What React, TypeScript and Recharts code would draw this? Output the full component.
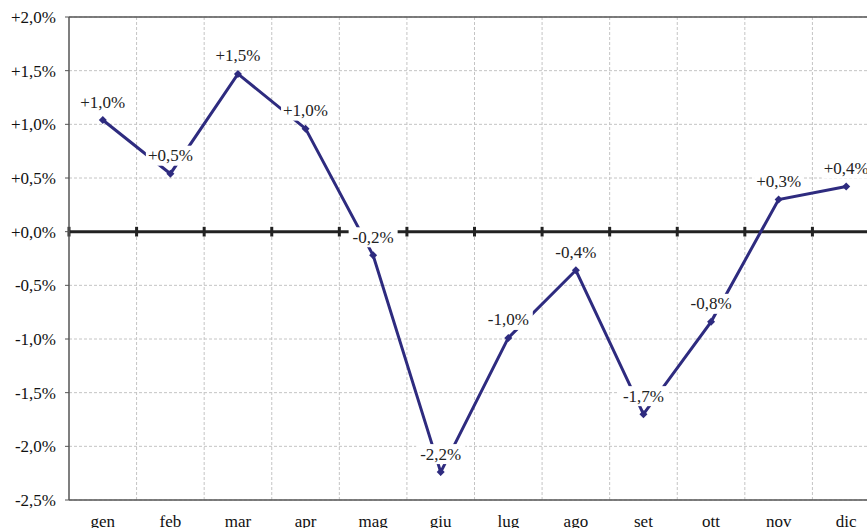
import {
	CartesianGrid,
	LabelList,
	Line,
	LineChart,
	ReferenceLine,
	XAxis,
	YAxis,
} from "recharts";

const months = ["gen", "feb", "mar", "apr", "mag", "giu", "lug", "ago", "set", "ott", "nov", "dic"];
const values = [1.04, 0.54, 1.47, 0.96, -0.22, -2.24, -0.99, -0.36, -1.7, -0.84, 0.3, 0.42];
const yTicks = [-2.5, -2, -1.5, -1, -0.5, 0, 0.5, 1, 1.5, 2];

// months sit in the middle of each slot, slot borders carry the grid
const centers = months.map((_, i) => i + 0.5);
const borders = months.map((_, i) => i);

const data = months.map((month, i) => ({ x: centers[i], month, value: values[i] }));

const FONT = "'Liberation Serif', 'Times New Roman', serif";
const NAVY = "#2e2b7f";

const fmtPct = (v: number) => {
	const sign = v < 0 ? "-" : "+";
	return `${sign}${Math.abs(v).toFixed(1).replace(".", ",")}%`;
};

const Diamond = (props: any) => {
	const { cx, cy } = props;
	if (cx == null || cy == null) return null;
	const r = 4;
	return (
		<polygon
			points={`${cx},${cy - r} ${cx + r},${cy} ${cx},${cy + r} ${cx - r},${cy}`}
			fill={NAVY}
		/>
	);
};

const ValueLabel = (props: any) => {
	const { x, y, value } = props;
	if (x == null || y == null) return null;
	const text = fmtPct(value);
	const w = text.length * 9 + 4;
	const cy = y - 18;
	return (
		<g>
			<rect x={x - w / 2} y={cy - 10} width={w} height={20} fill="#fff" />
			<text
				x={x}
				y={cy}
				textAnchor="middle"
				dominantBaseline="central"
				fontFamily={FONT}
				fontSize={17}
				fill="#222"
			>
				{text}
			</text>
		</g>
	);
};

export default function App() {
	return (
		<div
			style={{
				position: "absolute",
				left: 0,
				top: 0,
				width: 867,
				height: 528,
				overflow: "hidden",
				background: "#fff",
			}}
		>
			<LineChart
				width={900}
				height={548}
				data={data}
				margin={{ top: 17, right: 20, left: 0, bottom: 0 }}
			>
				<CartesianGrid
					vertical={false}
					stroke="#c4c4c4"
					strokeDasharray="3 2"
				/>
				{borders.slice(1).map((b) => (
					<ReferenceLine
						key={`v${b}`}
						x={b}
						stroke="#c4c4c4"
						strokeDasharray="3 2"
					/>
				))}
				<ReferenceLine y={2} stroke="#555" strokeWidth={1.5} />
				<XAxis
					type="number"
					dataKey="x"
					domain={[0, 12]}
					ticks={centers}
					tickFormatter={(v: number) => months[Math.floor(v)]}
					interval={0}
					axisLine={{ stroke: "#555", strokeWidth: 1.5 }}
					tickLine={false}
					tickMargin={9}
					height={48}
					tick={{ fontSize: 17, fill: "#111", fontFamily: FONT }}
				/>
				<YAxis
					type="number"
					domain={[-2.5, 2]}
					ticks={yTicks}
					tickFormatter={fmtPct}
					width={69}
					tickSize={4}
					tickMargin={9}
					axisLine={{ stroke: "#555", strokeWidth: 1.5 }}
					tickLine={{ stroke: "#555" }}
					tick={{ fontSize: 17, fill: "#111", fontFamily: FONT }}
				/>
				<ReferenceLine y={0} stroke="#222" strokeWidth={3} />
				{borders.map((b) => (
					<ReferenceLine
						key={`t${b}`}
						segment={[
							{ x: b, y: -0.045 },
							{ x: b, y: 0.045 },
						]}
						stroke="#222"
						strokeWidth={3}
					/>
				))}
				<Line
					type="linear"
					dataKey="value"
					stroke={NAVY}
					strokeWidth={3}
					dot={<Diamond />}
					activeDot={false}
					isAnimationActive={false}
				>
					<LabelList dataKey="value" content={<ValueLabel />} />
				</Line>
			</LineChart>
		</div>
	);
}
